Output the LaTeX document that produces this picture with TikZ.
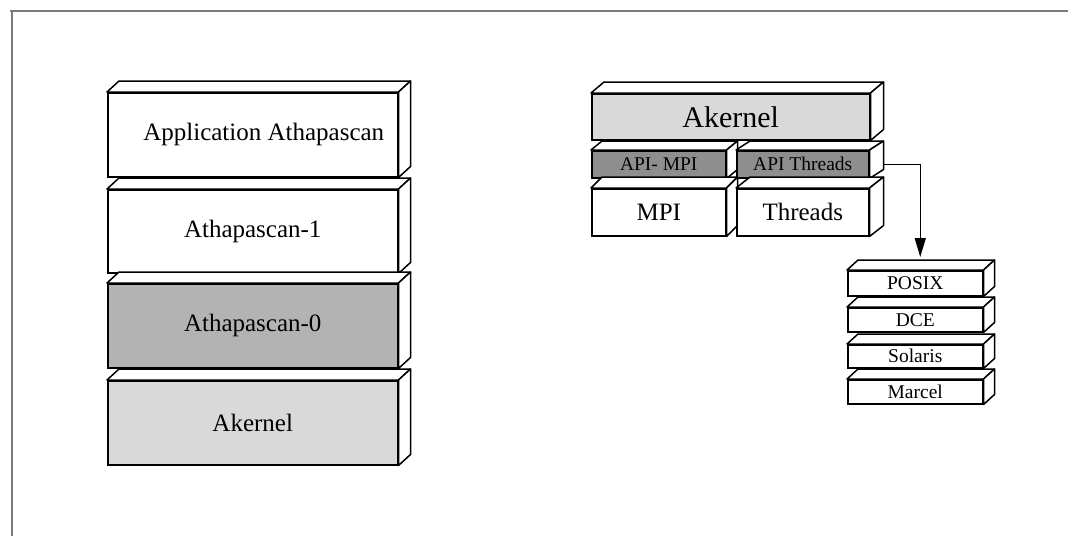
\documentclass[tikz,border=0pt]{standalone}
\usepackage{fontspec}
\setmainfont{Liberation Serif}
\usetikzlibrary{arrows.meta}

\definecolor{shadeDark}{HTML}{B3B3B3}
\definecolor{shadeLight}{HTML}{D9D9D9}
\definecolor{shadeApi}{HTML}{8E8E8E}
\definecolor{frameGray}{HTML}{7A7A7A}

\tikzset{
  front/.style={draw=black, line width=1.5pt, fill=white, inner sep=0pt,
    anchor=north west, align=center},
  side/.style={draw=black, line width=1.5pt, fill=white, line join=round},
  big/.style={font=\fontsize{25}{30}\selectfont},
  huge/.style={font=\fontsize{30}{36}\selectfont},
  small/.style={font=\fontsize{19.5}{23}\selectfont},
  link/.style={draw=black, line width=1.5pt,
    -{Triangle[length=19pt,width=11pt]}},
  frameline/.style={draw=frameGray, line width=2pt}
}

% top and right faces of a slab whose front face is node #1, depth (#2,#3)
\newcommand\slabfaces[3]{%
  \draw[side] (#1.north west) -- ++(#2,-#3) -- ([shift={(#2,-#3)}]#1.north east)
    -- (#1.north east) -- cycle;
  \draw[side] (#1.north east) -- ([shift={(#2,-#3)}]#1.north east)
    -- ([shift={(#2,-#3)}]#1.south east) -- (#1.south east) -- cycle;
}

\begin{document}
\begin{tikzpicture}[x=1pt, y=-1pt]
  \useasboundingbox (0,0) rectangle (1068,536);

  % outer frame
  \draw[frameline] (10,11) -- (1068,11);
  \draw[frameline] (12,11) -- (12,536);

  % ---- left stack ----
  \node[front, big, minimum width=290pt, minimum height=84pt] (app) at (107,92) {};
  \node[big] at ([xshift=11pt]app.center) {Application Athapascan};
  \slabfaces{app}{12}{11}
  \node[front, big, minimum width=290pt, minimum height=83pt] (ath1) at (107,189) {Athapascan-1};
  \slabfaces{ath1}{12}{11}
  \node[front, big, fill=shadeDark, minimum width=290pt, minimum height=84pt] (ath0) at (107,283) {Athapascan-0};
  \slabfaces{ath0}{12}{11}
  \node[front, big, fill=shadeLight, minimum width=290pt, minimum height=84pt] (akl) at (107,380) {Akernel};
  \slabfaces{akl}{12}{11}

  % ---- right stack ----
  \node[front, huge, fill=shadeLight, minimum width=278pt, minimum height=46pt] (akr) at (591,93) {Akernel};
  \slabfaces{akr}{13}{11}
  \node[front, small, fill=shadeApi, minimum width=134pt, minimum height=27pt] (apimpi) at (591,150) {API- MPI};
  \slabfaces{apimpi}{11}{9}
  \node[front, small, fill=shadeApi, minimum width=132pt, minimum height=27pt] (apithr) at (736,150) {API Threads};
  \slabfaces{apithr}{14}{9}
  \node[front, big, minimum width=134pt, minimum height=47pt] (mpi) at (591,188) {MPI};
  \slabfaces{mpi}{11}{11}
  \node[front, big, minimum width=132pt, minimum height=47pt] (thr) at (736,188) {Threads};
  \slabfaces{thr}{14}{11}

  % ---- thread libraries ----
  \node[front, small, minimum width=135pt, minimum height=25pt] (posix) at (847,270) {POSIX};
  \slabfaces{posix}{11}{10}
  \node[front, small, minimum width=135pt, minimum height=24pt] (dce) at (847,307) {DCE};
  \slabfaces{dce}{11}{10}
  \node[front, small, minimum width=135pt, minimum height=23pt] (sol) at (847,344) {Solaris};
  \slabfaces{sol}{11}{10}
  \node[front, small, minimum width=135pt, minimum height=24pt] (mar) at (847,379) {Marcel};
  \slabfaces{mar}{11}{10}

  % ---- link from the threads API to the libraries ----
  \coordinate (linkfrom) at ([xshift=14pt]apithr.east);
  \coordinate (linkto) at ([shift={(5,-13)}]posix.north);
  \draw[link] (linkfrom) -| (linkto);
\end{tikzpicture}
\end{document}
